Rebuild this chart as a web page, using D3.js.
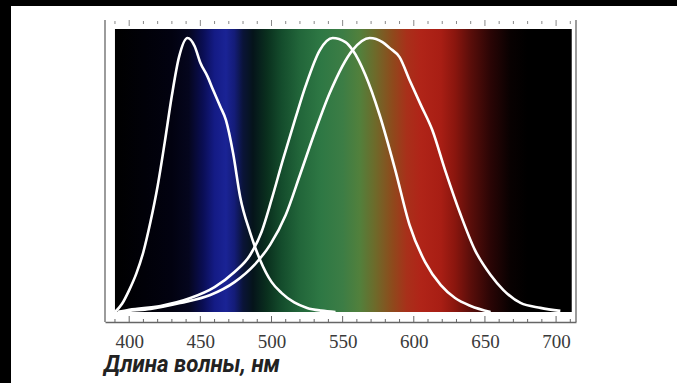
<!DOCTYPE html>
<html>
<head>
<meta charset="utf-8">
<script src="https://cdn.jsdelivr.net/npm/d3@7"></script>
<style>
  html, body { margin: 0; padding: 0; background: #fff; }
  svg { display: block; }
</style>
</head>
<body>
<div id="chart"></div>
<script>
// wavelength (nm) / relative sensitivity
const sNm = [390, 395, 400, 405, 410, 415, 420, 425, 430, 435, 441, 446, 450, 455, 459, 464, 468, 473, 478, 485, 492, 500, 507, 516, 525, 535, 545];
const sVal = [0, 0.03, 0.08, 0.14, 0.22, 0.33, 0.46, 0.62, 0.79, 0.93, 1.0, 0.97, 0.91, 0.86, 0.81, 0.75, 0.70, 0.58, 0.42, 0.29, 0.19, 0.11, 0.07, 0.035, 0.015, 0.005, 0];

const mNm = [392, 400, 422, 443, 460, 474, 485, 493, 500, 508, 517, 524, 534, 543, 552, 557, 566, 576, 587, 597, 608, 619, 629, 640, 654];
const mVal = [0, 0.008, 0.022, 0.051, 0.091, 0.146, 0.208, 0.292, 0.409, 0.555, 0.71, 0.825, 0.956, 1.0, 0.985, 0.956, 0.865, 0.719, 0.518, 0.318, 0.182, 0.098, 0.051, 0.022, 0];

const lNm = [392, 400, 415, 436, 457, 474, 488, 499, 510, 520, 531, 541, 557, 569, 578, 583, 590, 597, 605, 613, 622, 633, 643, 654, 663, 675, 689, 703];
const lVal = [0, 0.004, 0.011, 0.033, 0.062, 0.109, 0.172, 0.245, 0.354, 0.5, 0.664, 0.8, 0.956, 1.0, 0.985, 0.964, 0.93, 0.847, 0.755, 0.664, 0.518, 0.354, 0.226, 0.135, 0.08, 0.033, 0.015, 0.004];

// spectrum colours behind the curves
const specNm = [390, 430, 442, 452, 460, 468, 474, 480, 487, 497, 507, 520, 535, 550, 562, 573, 585, 595, 605, 619, 629, 640, 654, 668, 680, 711];
const specColor = ["#000000", "#020210", "#05061e", "#0a0e55", "#141b85", "#1a2395", "#141c78", "#0a1438", "#05141a", "#0a301e", "#144c2c", "#22663a", "#2e7844", "#3c7d45", "#52803c", "#6e6a2a", "#8e4a1c", "#a8301a", "#b02418", "#a81e14", "#8a160e", "#5a0e0a", "#2a0505", "#080101", "#000000", "#000000"];

const tickLabels = [400, 450, 500, 550, 600, 650, 700];
const xTitle = "Длина волны, нм";

const width = 677, height = 383;

const svg = d3.select("#chart").append("svg")
  .attr("width", width)
  .attr("height", height);

// black page border at the top-left
svg.append("rect").attr("width", width).attr("height", height).attr("fill", "#000");
svg.append("rect").attr("x", 11).attr("y", 6).attr("width", width - 11).attr("height", height - 6).attr("fill", "#fff");

const x = d3.scaleLinear().domain([383, 714]).range([105, 576]);
const y = d3.scaleLinear().domain([0, 1]).range([312, 38]);

// spectrum gradient
const grad = svg.append("defs").append("linearGradient")
  .attr("id", "spec")
  .attr("gradientUnits", "userSpaceOnUse")
  .attr("x1", x(390)).attr("x2", x(711))
  .attr("y1", 0).attr("y2", 0);

grad.selectAll("stop")
  .data(specNm)
  .enter()
  .append("stop")
  .attr("offset", d => (d - 390) / (711 - 390))
  .attr("stop-color", (d, i) => specColor[i]);

svg.append("rect")
  .attr("x", x(390))
  .attr("y", 29)
  .attr("width", x(711) - x(390))
  .attr("height", y(0) - 29)
  .attr("fill", "url(#spec)");

// frame
const frame = svg.append("g").attr("stroke", "#666").attr("stroke-width", 1.3).attr("fill", "none");
frame.append("line").attr("x1", x(383)).attr("x2", x(383)).attr("y1", 20).attr("y2", 322);
frame.append("line").attr("x1", x(714)).attr("x2", x(714)).attr("y1", 20).attr("y2", 322);

// bottom axis
const bottom = svg.append("g")
  .attr("transform", "translate(0,322)")
  .call(d3.axisBottom(x).tickValues(tickLabels).tickSize(0).tickPadding(13).tickFormat(d3.format("d")));
bottom.select(".domain").attr("stroke", "#666").attr("stroke-width", 1.3);
bottom.selectAll("text")
  .attr("font-family", "Liberation Serif, serif")
  .attr("font-size", 19)
  .attr("fill", "#3a3a3a");

const minor = d3.range(390, 711, 10);
svg.append("g").selectAll("line")
  .data(minor)
  .enter()
  .append("line")
  .attr("x1", d => x(d)).attr("x2", d => x(d))
  .attr("y1", 322)
  .attr("y2", d => d % 50 === 0 ? 316 : 319)
  .attr("stroke", "#666").attr("stroke-width", 1);

// top ticks
svg.append("g").selectAll("line")
  .data(minor)
  .enter()
  .append("line")
  .attr("x1", d => x(d)).attr("x2", d => x(d))
  .attr("y1", d => d % 50 === 0 ? 20 : 21)
  .attr("y2", d => d % 50 === 0 ? 26 : 24)
  .attr("stroke", "#888").attr("stroke-width", 1);

// sensitivity curves
const line = d3.line()
  .x(d => x(d[0]))
  .y(d => y(d[1]))
  .curve(d3.curveMonotoneX);

[[sNm, sVal], [mNm, mVal], [lNm, lVal]].forEach(([nm, val]) => {
  svg.append("path")
    .datum(d3.zip(nm, val))
    .attr("d", line)
    .attr("fill", "none")
    .attr("stroke", "#fff")
    .attr("stroke-width", 2.6);
});

svg.append("text")
  .attr("x", 104)
  .attr("y", 372)
  .attr("font-family", "Roboto, sans-serif")
  .attr("font-weight", "bold")
  .attr("font-style", "italic")
  .attr("font-size", 23)
  .attr("fill", "#222")
  .attr("textLength", 176)
  .attr("lengthAdjust", "spacingAndGlyphs")
  .text(xTitle);
</script>
</body>
</html>
